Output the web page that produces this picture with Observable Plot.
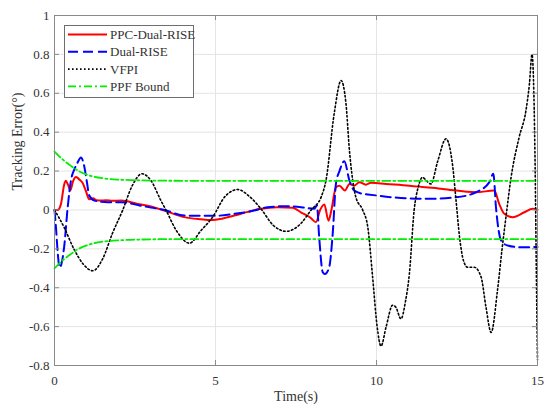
<!DOCTYPE html>
<html><head><meta charset="utf-8">
<script src="https://cdn.jsdelivr.net/npm/d3@7"></script>
<script src="https://cdn.jsdelivr.net/npm/@observablehq/plot@0.6"></script>
<style>
body{margin:0;background:#fff}
#wrap{position:relative;width:550px;height:414px}
#legend{position:absolute;left:0;top:0}
</style>
</head><body><div id="wrap"></div>
<script>
// ---- data ----
const redT = [0,0.1,0.2,0.3,0.35,0.42,0.49,0.58,0.67,0.78,0.87,0.97,1.08,1.2,1.3,1.44,1.6,1.8,2.07,2.58,3.0,3.41,4.03,4.55,4.86,5.2,5.58,6.0,6.41,6.93,7.4,7.65,7.95,8.12,8.25,8.38,8.51,8.6,8.74,8.85,9.02,9.16,9.31,9.47,9.67,9.83,10.3,11.02,12.06,13.09,13.66,13.81,13.97,14.23,14.59,14.85,15];
const redV = [0,0.0,0.03,0.13,0.15,0.13,0.10,0.15,0.17,0.155,0.14,0.1,0.055,0.06,0.05,0.048,0.05,0.047,0.048,0.031,0.018,-0.003,-0.037,-0.048,-0.052,-0.045,-0.029,-0.01,0.006,0.014,0.011,-0.012,-0.04,-0.063,0.0,0.028,-0.055,0.0,0.117,0.125,0.10,0.134,0.125,0.143,0.13,0.14,0.134,0.125,0.108,0.091,0.1,0.031,-0.02,-0.037,-0.012,0.006,0];

const blueT = [0,0.05,0.1,0.16,0.3,0.41,0.51,0.62,0.72,0.82,0.93,1.0,1.08,1.24,1.65,2.07,2.64,3.0,3.41,4.03,4.55,5.0,5.58,6.1,6.62,7.14,7.66,8.07,8.15,8.22,8.33,8.4,8.53,8.64,8.74,8.85,9.0,9.16,9.31,9.57,9.73,10.5,11.54,12.47,13.09,13.5,13.63,13.71,13.87,14.07,14.49,15];
const blueV = [0,-0.1,-0.22,-0.296,-0.19,0.014,0.151,0.21,0.245,0.27,0.22,0.15,0.074,0.048,0.04,0.04,0.023,0.012,0.0,-0.029,-0.03,-0.03,-0.02,-0.007,0.014,0.019,0.014,0.006,0.023,-0.14,-0.32,-0.33,-0.295,-0.123,0.134,0.2,0.25,0.151,0.1,0.083,0.08,0.065,0.057,0.065,0.091,0.142,0.186,0.014,-0.157,-0.183,-0.192,-0.19];

const blackT = [0,0.3,0.6,0.9,1.19,1.5,1.8,2.12,2.4,2.72,3.0,3.3,3.46,3.8,4.19,4.55,4.91,5.3,5.69,6.05,6.41,6.8,7.19,7.65,7.97,8.28,8.43,8.69,8.9,9.05,9.16,9.36,9.57,9.73,9.88,10.02,10.14,10.3,10.5,10.6,10.76,10.9,11.02,11.17,11.3,11.43,11.55,11.69,11.9,12.16,12.3,12.37,12.47,12.58,12.7,12.83,13.04,13.25,13.4,13.56,13.76,13.9,14.02,14.18,14.43,14.64,14.75,14.83,14.92,14.97,15];
const blackV = [0,-0.09,-0.2,-0.28,-0.313,-0.25,-0.12,0,0.12,0.186,0.15,0.05,0,-0.11,-0.171,-0.106,-0.037,0.07,0.105,0.07,0.006,-0.08,-0.11,-0.07,0,0.066,0.151,0.5,0.666,0.55,0.305,0.065,0.0,-0.089,-0.346,-0.6,-0.70,-0.6,-0.49,-0.5,-0.56,-0.47,-0.33,0,0.12,0.168,0.15,0.134,0.25,0.366,0.3,0.22,0.05,-0.14,-0.26,-0.295,-0.295,-0.346,-0.5,-0.63,-0.41,-0.2,-0.037,0.168,0.374,0.51,0.65,0.8,0.3,-0.4,-0.77];

const boundT  = [0,0.25,0.5,0.75,1.0,1.25,1.5,2.0,2.5,3.0,4.0,15];
const boundUp = [0.3,0.26,0.228,0.2,0.182,0.17,0.163,0.156,0.153,0.151,0.15,0.15];
const boundLo = [-0.3,-0.26,-0.228,-0.2,-0.182,-0.17,-0.163,-0.156,-0.153,-0.151,-0.15,-0.15];

const xTicks = [0,5,10,15];
const xTickLabels = ["0","5","10","15"];
const yTicks = [-0.8,-0.6,-0.4,-0.2,0,0.2,0.4,0.6,0.8,1];
const yTickLabels = ["-0.8","-0.6","-0.4","-0.2","0","0.2","0.4","0.6","0.8","1"];
const seriesNames = ["PPC-Dual-RISE","Dual-RISE","VFPI","PPF Bound"];
const xLabel = "Time(s)";
const yLabel = "Tracking Error(°)";

// ---- styles ----
const styles = [
  {stroke:"#ff0000", strokeWidth:2, dash:null},
  {stroke:"#0000ff", strokeWidth:2, dash:"10,5"},
  {stroke:"#000000", strokeWidth:1.6, dash:"1.6,2.4"},
  {stroke:"#00ee00", strokeWidth:1.8, dash:"8,3,2,3"}
];

const rows = (T,V) => T.map((t,i)=>({t, v:V[i]}));
const red = rows(redT, redV), blue = rows(blueT, blueV), black = rows(blackT, blackV);
const up = rows(boundT, boundUp), lo = rows(boundT, boundLo);

const W=550,H=414,ML=54,MR=13,MT=15,MB=49;
const fw=W-ML-MR, fh=H-MT-MB;
const FONT = "'Liberation Serif', 'Times New Roman', serif";
const axisCol="#8a8a8a", textCol="#333333", gridCol="#e4e4e4";
const lineOpts = (s) => ({x:"t", y:"v", stroke:s.stroke, strokeWidth:s.strokeWidth, strokeDasharray:s.dash, curve:"monotone-x"});

const chart = Plot.plot({
  width:W, height:H, marginLeft:ML, marginRight:MR, marginTop:MT, marginBottom:MB,
  style:{fontFamily:FONT, fontSize:"13px", color:textCol, background:"#fff"},
  x:{domain:[0,15]},
  y:{domain:[-0.8,1]},
  marks:[
    Plot.gridX(xTicks,{stroke:gridCol, strokeOpacity:1}),
    Plot.gridY(yTicks,{stroke:gridCol, strokeOpacity:1}),
    Plot.line(red, lineOpts(styles[0])),
    Plot.line(blue, lineOpts(styles[1])),
    Plot.line(black, lineOpts(styles[2])),
    Plot.line(up, lineOpts(styles[3])),
    Plot.line(lo, lineOpts(styles[3])),
    Plot.frame({stroke:axisCol}),
    Plot.tickX(xTicks,{x:d=>d, insetTop:fh-5, stroke:axisCol}),
    Plot.tickX(xTicks,{x:d=>d, insetBottom:fh-5, stroke:axisCol}),
    Plot.tickY(yTicks,{y:d=>d, insetRight:fw-5, stroke:axisCol}),
    Plot.tickY(yTicks,{y:d=>d, insetLeft:fw-5, stroke:axisCol}),
    Plot.axisX(xTicks,{tickSize:0, tickPadding:10, label:null, tickFormat:d=>xTickLabels[xTicks.indexOf(d)], fill:textCol, fontSize:13, fontFamily:FONT}),
    Plot.axisY(yTicks,{tickSize:0, tickPadding:5, label:null, tickFormat:d=>yTickLabels[yTicks.indexOf(d)], fill:textCol, fontSize:13, fontFamily:FONT}),
    Plot.text([xLabel],{text:d=>d, frameAnchor:"bottom", dy:35, fontSize:14, fill:textCol, fontFamily:FONT}),
    Plot.text([yLabel],{text:d=>d, frameAnchor:"left", dx:-37, rotate:-90, fontSize:14, fill:textCol, fontFamily:FONT})
  ]
});
const wrap = document.getElementById("wrap");
wrap.appendChild(chart);

// ---- legend overlay ----
const lg = d3.select(wrap).append("svg").attr("id","legend").attr("width",W).attr("height",H);
const bx=64.5, by=25.5, bw=129, bh=72;
lg.append("rect").attr("x",bx).attr("y",by).attr("width",bw).attr("height",bh)
  .attr("fill","#fff").attr("stroke","#6e6e6e").attr("stroke-width",1);
seriesNames.forEach((name,i)=>{
  const y = 34.5 + i*17.3;
  const s = styles[i];
  lg.append("line").attr("x1",68).attr("x2",107).attr("y1",y).attr("y2",y)
    .attr("stroke",s.stroke).attr("stroke-width",s.strokeWidth)
    .attr("stroke-dasharray",s.dash);
  lg.append("text").attr("x",110).attr("y",y).attr("dy","0.35em")
    .attr("font-family",FONT).attr("font-size",13)
    .attr("fill",textCol).text(name);
});
</script>
</body></html>
